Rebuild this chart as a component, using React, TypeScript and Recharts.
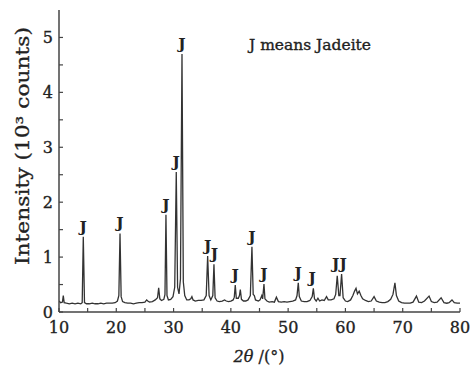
import React from 'react';
import { ComposedChart, Line, Scatter, XAxis, YAxis, Label } from 'recharts';

const twoTheta = [
  10.0, 10.3, 10.6, 10.75, 10.9, 11.3, 11.8, 12.3, 12.8, 13.3, 13.8, 14.05, 14.24, 14.45, 14.8,
  15.3, 15.8, 16.3, 16.8, 17.3, 17.8, 18.3, 18.8, 19.3, 19.8, 20.2, 20.45, 20.65, 20.85, 21.1,
  21.5, 22.0, 22.5, 23.0, 23.5, 24.0, 24.5, 25.0, 25.3, 25.5, 25.8, 26.3, 26.8, 27.2, 27.4,
  27.6, 27.9, 28.3, 28.5, 28.67, 28.85, 29.1, 29.5, 29.9, 30.2, 30.47, 30.7, 30.95, 31.2, 31.47,
  31.7, 31.95, 32.3, 32.7, 33.0, 33.2, 33.4, 33.8, 34.3, 34.8, 35.3, 35.7, 35.95, 36.2, 36.5,
  36.85, 37.05, 37.25, 37.6, 38.0, 38.5, 38.9, 39.2, 39.6, 40.0, 40.4, 40.6, 40.77, 40.95, 41.3,
  41.5, 41.65, 41.85, 42.2, 42.6, 43.0, 43.4, 43.68, 43.9, 44.1, 44.3, 44.8, 45.1, 45.4, 45.55,
  45.78, 45.95, 46.3, 46.7, 47.2, 47.6, 47.95, 48.3, 48.8, 49.3, 49.8, 50.3, 50.8, 51.3, 51.55,
  51.77, 51.95, 52.3, 52.8, 53.3, 53.8, 54.2, 54.4, 54.6, 54.9, 55.2, 55.5, 55.9, 56.3, 56.7,
  57.0, 57.5, 58.0, 58.3, 58.57, 58.85, 59.05, 59.33, 59.6, 60.0, 60.4, 60.9, 61.3, 61.6, 61.85,
  62.1, 62.4, 62.7, 63.0, 63.5, 64.0, 64.5, 65.0, 65.4, 65.9, 66.4, 66.9, 67.4, 67.9, 68.3,
  68.64, 68.9, 69.3, 69.8, 70.3, 70.8, 71.3, 71.8, 72.4, 72.8, 73.3, 73.8, 74.6, 75.0, 75.5,
  76.0, 76.7, 77.2, 77.7, 78.1, 78.6, 79.0, 79.5, 80.0,
];

const intensity = [
  0.20, 0.17, 0.18, 0.30, 0.17, 0.16, 0.15, 0.16, 0.15, 0.16, 0.15, 0.17, 1.37, 0.17, 0.15,
  0.15, 0.16, 0.15, 0.15, 0.16, 0.15, 0.16, 0.16, 0.16, 0.17, 0.20, 0.30, 1.43, 0.28, 0.19,
  0.17, 0.16, 0.16, 0.15, 0.16, 0.17, 0.17, 0.18, 0.22, 0.20, 0.18, 0.19, 0.22, 0.26, 0.44,
  0.24, 0.21, 0.23, 0.32, 1.77, 0.30, 0.22, 0.23, 0.28, 0.45, 2.55, 0.45, 0.33, 0.60, 4.70,
  0.55, 0.30, 0.22, 0.22, 0.24, 0.28, 0.22, 0.20, 0.21, 0.21, 0.22, 0.30, 1.02, 0.30, 0.22,
  0.30, 0.87, 0.26, 0.20, 0.19, 0.20, 0.22, 0.20, 0.19, 0.20, 0.22, 0.27, 0.49, 0.25, 0.25,
  0.30, 0.41, 0.23, 0.20, 0.20, 0.22, 0.30, 1.19, 0.32, 0.30, 0.22, 0.20, 0.22, 0.30, 0.24,
  0.51, 0.24, 0.20, 0.18, 0.19, 0.18, 0.27, 0.19, 0.18, 0.19, 0.18, 0.19, 0.20, 0.22, 0.30,
  0.53, 0.28, 0.20, 0.19, 0.19, 0.21, 0.28, 0.43, 0.24, 0.20, 0.25, 0.20, 0.22, 0.21, 0.28,
  0.22, 0.22, 0.24, 0.32, 0.66, 0.30, 0.30, 0.69, 0.26, 0.20, 0.19, 0.22, 0.30, 0.38, 0.43,
  0.33, 0.38, 0.30, 0.24, 0.21, 0.19, 0.20, 0.28, 0.20, 0.18, 0.17, 0.17, 0.19, 0.23, 0.32,
  0.53, 0.30, 0.20, 0.17, 0.16, 0.16, 0.16, 0.18, 0.29, 0.18, 0.17, 0.20, 0.29, 0.19, 0.17,
  0.18, 0.26, 0.17, 0.16, 0.17, 0.22, 0.17, 0.16, 0.16,
];

const peakLabelX = [14.24, 20.65, 28.67, 30.47, 31.47, 35.95, 37.15, 40.77, 43.68, 45.78, 51.77, 54.2, 58.3, 59.6];
const peakLabelY = [1.37, 1.43, 1.77, 2.55, 4.70, 1.02, 0.87, 0.49, 1.19, 0.51, 0.53, 0.43, 0.69, 0.69];

const xTicks = [10, 15, 20, 25, 30, 35, 40, 45, 50, 55, 60, 65, 70, 75, 80];
const yTicks = [0, 0.5, 1, 1.5, 2, 2.5, 3, 3.5, 4, 4.5, 5];

const titleText = 'J means Jadeite';
const yTitle = 'Intensity (10³ counts)';
const peakMark = 'J';

const FONT = '"DejaVu Serif", serif';
const INK = '#222';

const traceData = twoTheta.map((t, i) => ({ t, v: intensity[i] }));
const labelData = peakLabelX.map((t, i) => ({ t, v: peakLabelY[i] }));

const JShape = (props: any) => {
  const { cx, cy } = props;
  return (
    <text x={cx} y={cy - 5} textAnchor="middle" fontFamily={FONT} fontSize={15.5} fontWeight="bold" fill={INK}>
      {peakMark}
    </text>
  );
};

const tickStyle = { fontFamily: FONT, fontSize: 16, fill: INK, stroke: INK, strokeWidth: 0.35 };

export default function App() {
  return (
    <div style={{ position: 'absolute', left: 0, top: 0, background: '#fff' }}>
      <ComposedChart width={472} height={367} margin={{ top: 10, right: 12, bottom: 0, left: 0 }}>
        <XAxis
          dataKey="t"
          type="number"
          domain={[10, 80]}
          ticks={xTicks}
          tickFormatter={(v: number) => (v % 10 === 0 ? String(v) : '')}
          height={55}
          tickSize={-4}
          tickMargin={14}
          interval={0}
          axisLine={{ stroke: '#444', strokeWidth: 1.5 }}
          tickLine={{ stroke: '#444', strokeWidth: 1.2 }}
          tick={tickStyle}
          allowDataOverflow
        >
          <Label
            content={() => (
              <text x={259} y={362} textAnchor="middle" fontFamily={FONT} fontSize={16} fill={INK} stroke={INK} strokeWidth={0.3}>
                <tspan fontStyle="italic">2θ</tspan>
                <tspan> /(°)</tspan>
              </text>
            )}
          />
        </XAxis>
        <YAxis
          type="number"
          domain={[0, 5.5]}
          ticks={yTicks}
          tickFormatter={(v: number) => (Number.isInteger(v) ? String(v) : '')}
          width={59}
          tickSize={-4}
          tickMargin={10}
          interval={0}
          axisLine={{ stroke: '#444', strokeWidth: 1.5 }}
          tickLine={{ stroke: '#444', strokeWidth: 1.2 }}
          tick={tickStyle}
          allowDataOverflow
        >
          <Label
            content={() => (
              <g>
                <text
                  x={22}
                  y={146}
                  transform="rotate(-90 22 146)"
                  textAnchor="middle"
                  dominantBaseline="central"
                  fontFamily={FONT}
                  fontSize={18}
                  textLength={238}
                  lengthAdjust="spacingAndGlyphs"
                  fill={INK}
                  stroke={INK}
                  strokeWidth={0.3}
                >
                  {yTitle}
                </text>
                <text x={249} y={50} textAnchor="start" fontFamily={FONT} fontSize={15.5} fill={INK} stroke={INK} strokeWidth={0.35}>
                  {titleText}
                </text>
              </g>
            )}
          />
        </YAxis>
        <Line
          data={traceData}
          dataKey="v"
          type="linear"
          dot={false}
          stroke="#333"
          strokeWidth={1.3}
          isAnimationActive={false}
        />
        <Scatter data={labelData} dataKey="v" shape={JShape} isAnimationActive={false} />
      </ComposedChart>
    </div>
  );
}
